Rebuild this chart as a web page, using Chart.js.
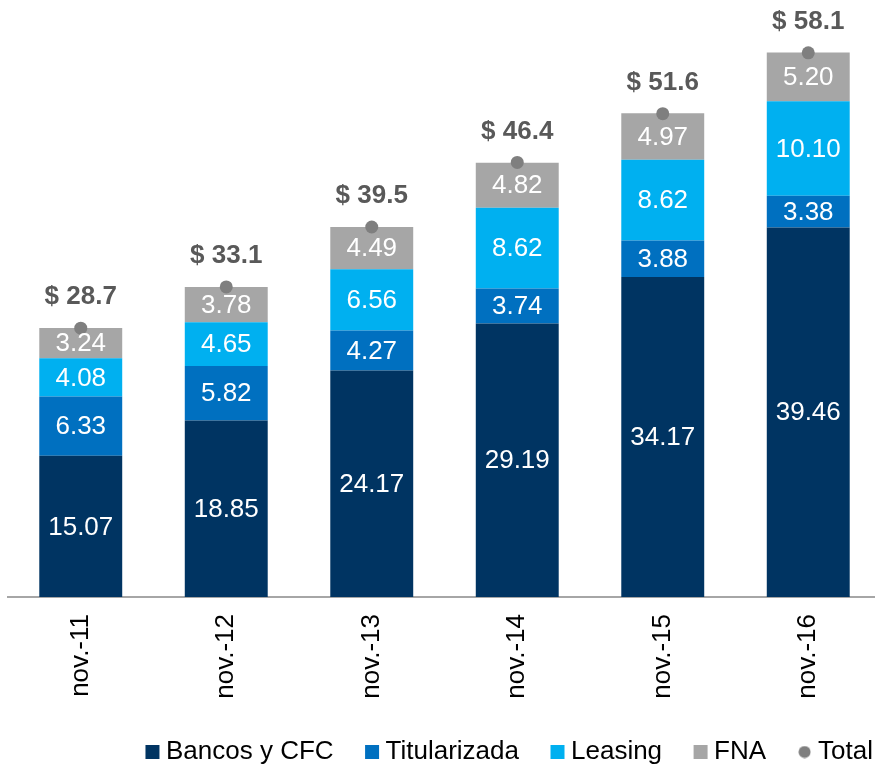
<!DOCTYPE html>
<html>
<head>
<meta charset="utf-8">
<script src="https://cdn.jsdelivr.net/npm/chart.js@4"></script>
<style>
    html, body { margin: 0; padding: 0; background: #fff; overflow: hidden; }
    /* a few px wider than the window: the axis runs off the right edge */
    #wrap { width: 881px; height: 767px; }
</style>
</head>
<body>
<div id="wrap"><canvas id="chart"></canvas></div>
<script>
// Data
const categories = ['nov.-11', 'nov.-12', 'nov.-13', 'nov.-14', 'nov.-15', 'nov.-16'];
const bancos = [15.07, 18.85, 24.17, 29.19, 34.17, 39.46];
const titularizada = [6.33, 5.82, 4.27, 3.74, 3.88, 3.38];
const leasing = [4.08, 4.65, 6.56, 8.62, 8.62, 10.10];
const fna = [3.24, 3.78, 4.49, 4.82, 4.97, 5.20];
const totals = [28.7, 33.1, 39.5, 46.4, 51.6, 58.1];

const FONT = "'Liberation Sans', Arial, sans-serif";
const TOTAL_COLOR = '#7F7F7F';

// Small dot used as the legend marker for "Total"
const dot = document.createElement('canvas');
dot.width = 13;
dot.height = 13;
const dctx = dot.getContext('2d');
dctx.fillStyle = TOTAL_COLOR;
dctx.beginPath();
dctx.arc(6.5, 6.5, 6, 0, Math.PI * 2);
dctx.fill();

// Labels inside bars and above total dots
const labelPlugin = {
    id: 'labels',
    afterDatasetsDraw(chart) {
        const ctx = chart.ctx;
        ctx.save();
        ctx.textAlign = 'center';
        ctx.textBaseline = 'middle';
        chart.data.datasets.forEach((ds, i) => {
            const meta = chart.getDatasetMeta(i);
            meta.data.forEach((el, j) => {
                if (ds.type === 'line') {
                    ctx.font = 'bold 26px ' + FONT;
                    ctx.fillStyle = '#595959';
                    ctx.fillText('$ ' + ds.data[j].toFixed(1), el.x, el.y - 31);
                } else {
                    const mid = (el.y + el.base) / 2;
                    ctx.font = '26px ' + FONT;
                    ctx.fillStyle = '#ffffff';
                    ctx.fillText(ds.data[j].toFixed(2), el.x, mid + 1);
                }
            });
        });
        ctx.restore();
    }
};

// Push the legend a bit to the right so the last item ends near the edge
const legendShift = {
    id: 'legendShift',
    afterLayout(chart) {
        chart.legend.left += 30;
        chart.legend.right += 30;
    }
};

function barSet(label, data, color) {
    return {
        type: 'bar',
        label: label,
        data: data,
        backgroundColor: color,
        borderWidth: 0,
        stack: 'a',
        order: 1,
        pointStyle: 'rect',
        barPercentage: 0.57,
        categoryPercentage: 1.0,
    };
}

new Chart(document.getElementById('chart'), {
    data: {
        labels: categories,
        datasets: [
            barSet('Bancos y CFC', bancos, '#003462'),
            barSet('Titularizada', titularizada, '#0070C0'),
            barSet('Leasing', leasing, '#00B0F0'),
            barSet('FNA', fna, '#A6A6A6'),
            {
                type: 'line',
                label: 'Total',
                data: totals,
                stack: 'total',
                order: 0,
                showLine: false,
                pointStyle: 'circle',
                pointRadius: 6.5,
                pointHoverRadius: 6.5,
                pointBackgroundColor: TOTAL_COLOR,
                pointBorderWidth: 0,
                backgroundColor: TOTAL_COLOR,
                borderColor: TOTAL_COLOR,
                borderWidth: 0,
            },
        ],
    },
    options: {
        responsive: true,
        maintainAspectRatio: false,
        animation: false,
        layout: {
            autoPadding: false,
            padding: { top: 35, left: 8, right: 0, bottom: -8 },
        },
        plugins: {
            tooltip: { enabled: false },
            legend: {
                position: 'bottom',
                align: 'end',
                labels: {
                    usePointStyle: true,
                    boxWidth: 1,
                    boxHeight: 14,
                    padding: 38,
                    color: '#000',
                    font: { family: FONT, size: 26 },
                    sort: (a, b) => a.datasetIndex - b.datasetIndex,
                    generateLabels(chart) {
                        const items = Chart.defaults.plugins.legend.labels.generateLabels(chart);
                        items.forEach((item) => {
                            if (item.text === 'Total') item.pointStyle = dot;
                        });
                        return items;
                    },
                },
            },
        },
        scales: {
            x: {
                stacked: true,
                grid: { display: false },
                border: { display: true, color: '#A6A6A6', width: 2 },
                ticks: {
                    minRotation: 90,
                    maxRotation: 90,
                    padding: 9,
                    color: '#000',
                    font: { family: FONT, size: 26 },
                },
                afterFit(scale) {
                    scale.height = 104;
                    scale.paddingLeft = 0;
                    scale.paddingRight = 0;
                },
            },
            y: {
                stacked: true,
                display: false,
                min: 0,
                max: 60,
            },
        },
    },
    plugins: [labelPlugin, legendShift],
});
</script>
</body>
</html>
